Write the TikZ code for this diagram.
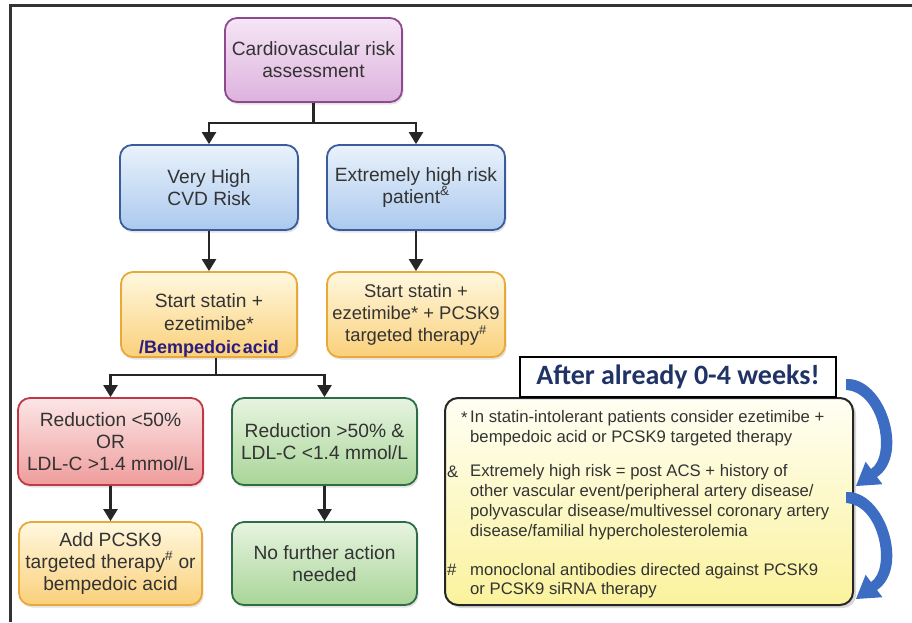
\documentclass[tikz,border=0pt]{standalone}
\usepackage{fontspec}
\setmainfont{Liberation Sans}
\newfontfamily\calfont{Carlito}
\usetikzlibrary{arrows.meta,shadows}
\definecolor{txt}{HTML}{333333}
\definecolor{purB}{HTML}{8E4A8E}\definecolor{purT}{HTML}{F5E6F5}\definecolor{purL}{HTML}{DDB2DD}
\definecolor{bluB}{HTML}{3A5C9C}\definecolor{bluT}{HTML}{E9F2FB}\definecolor{bluL}{HTML}{ABC9EE}
\definecolor{yelB}{HTML}{E8A83A}\definecolor{yelT}{HTML}{FFF8DF}\definecolor{yelL}{HTML}{FAD07A}
\definecolor{redB}{HTML}{C03848}\definecolor{redT}{HTML}{FCE6E6}\definecolor{redL}{HTML}{EF9C9C}
\definecolor{grnB}{HTML}{2E6E46}\definecolor{grnT}{HTML}{E7F4E0}\definecolor{grnL}{HTML}{A9D598}
\definecolor{noteT}{HTML}{FFFFF4}\definecolor{noteL}{HTML}{FAF29C}
\definecolor{bemp}{HTML}{2A1C80}
\definecolor{navy}{HTML}{1F3366}
\definecolor{arrblue}{HTML}{3C6DC2}
\begin{document}
\begin{tikzpicture}[x=1pt,y=-1pt,
  flow/.style={rounded corners=12pt, line width=1.8pt, align=center, text=txt,
    font=\fontsize{19.2}{22}\selectfont, inner sep=0pt,
    drop shadow={opacity=0.22, shadow xshift=1.5pt, shadow yshift=-2.5pt}},
  purplebox/.style={flow, draw=purB, top color=purT, bottom color=purL},
  bluebox/.style={flow, draw=bluB, top color=bluT, bottom color=bluL},
  yelbox/.style={flow, draw=yelB, top color=yelT, bottom color=yelL},
  redbox/.style={flow, draw=redB, top color=redT, bottom color=redL},
  grnbox/.style={flow, draw=grnB, top color=grnT, bottom color=grnL},
  flowtext/.style={align=center, text=txt, font=\fontsize{19.2}{23}\selectfont, inner sep=0pt},
  notetext/.style={font=\fontsize{16.7}{19.5}\selectfont, text=txt, align=left, inner sep=0pt, anchor=west},
  conn/.style={line width=2.4pt, draw=black!85},
  arr/.style={conn, -{Triangle[width=14pt,length=12pt]}},
  bluearrow/.style={fill=arrblue}
]
\useasboundingbox (0,0) rectangle (912,622);
\fill[white] (0,0) rectangle (912,622);
% frame
\draw[line width=3pt, black!80] (10,622) -- (10,5) -- (912,5);

% boxes
\node[purplebox, minimum width=177pt, minimum height=84pt] (p) at (313.5,60) {Cardiovascular risk\\assessment};
\node[bluebox, minimum width=178pt, minimum height=85pt] (vh) at (209,187.5) {Very High\\CVD Risk};
\node[bluebox, minimum width=178pt, minimum height=85pt] (eh) at (416,187.5) {Extremely high risk\\patient\textsuperscript{\&}};
\node[yelbox, minimum width=176pt, minimum height=85pt] (y1) at (209,314.5) {};
\node[flowtext] (y1t) at (209,325) {Start statin +\\ezetimibe*\\{\fontsize{18}{20}\selectfont\bfseries\color{bemp}/Bempedoic\hspace{1.5pt}acid}};
\node[yelbox, minimum width=178pt, minimum height=85pt, font=\fontsize{18.4}{22}\selectfont] (y2) at (416,314.5) {Start statin +\\ezetimibe* + PCSK9\\targeted therapy\textsuperscript{\#}};
\node[redbox, minimum width=185pt, minimum height=87pt] (red) at (110.5,441.5) {Reduction <50\%\\OR\\LDL-C >1.4 mmol/L};
\node[grnbox, minimum width=185pt, minimum height=87pt] (grn) at (324.5,441.5) {Reduction >50\% \&\\LDL-C <1.4 mmol/L};
\node[yelbox, minimum width=183pt, minimum height=83pt] (y3) at (110.5,563.5) {Add PCSK9\\targeted therapy\textsuperscript{\#} or\\bempedoic acid};
\node[grnbox, minimum width=185pt, minimum height=83pt] (g2) at (324.5,563.5) {No further action\\needed};

% connectors
\coordinate (j1) at (313.5,123);
\draw[conn] (p.south) -- (j1);
\draw[arr] (j1) -| (vh.north);
\draw[arr] (j1) -| (eh.north);
\draw[arr] (vh) -- (y1);
\draw[arr] (eh) -- (y2);
\coordinate (j2) at (216,375);
\draw[conn] (y1.south -| j2) -- (j2);
\draw[arr] (j2) -| (red.north);
\draw[arr] (j2) -| (grn.north);
\draw[arr] (red) -- (y3);
\draw[arr] (grn) -- (g2);

% notes
\node[draw=black!85, line width=2pt, rounded corners=13pt, top color=noteT, bottom color=noteL,
  minimum width=408pt, minimum height=207pt, inner sep=0pt,
  drop shadow={opacity=0.3, shadow xshift=3pt, shadow yshift=-3pt}] (notes) at (649,501.5) {};
\node[draw=black, line width=1.8pt, fill=white, minimum width=316pt, minimum height=40pt, inner sep=0pt,
  font=\calfont\bfseries\fontsize{28}{30}\selectfont, text=navy] (aft) at (678,377) {After already 0-4 weeks!};

\node[notetext, anchor=base west] (s1) at (461,423) {*};
\node[notetext] (n1) at (470,428) {In statin-intolerant patients consider ezetimibe +\\bempedoic acid or PCSK9 targeted therapy};
\node[notetext, anchor=base west] (s2) at (447,477) {\&};
\node[notetext, font=\fontsize{16.7}{20}\selectfont] (n2) at (470,502.5) {Extremely high risk = post ACS + history of\\other vascular event/peripheral artery disease/\\polyvascular disease/multivessel coronary artery\\disease/familial hypercholesterolemia};
\node[notetext, anchor=base west] (s3) at (447,575) {\#};
\node[notetext] (n3) at (470,580.5) {monoclonal antibodies directed against PCSK9\\or PCSK9 siRNA therapy};

% curved blue arrows
\fill[bluearrow] (846,379) .. controls (885,377) and (910,455) .. (877,477)
  -- (882.4,484.2) -- (856,486) -- (865.6,461.8) -- (871,469)
  .. controls (891,456) and (880,392) .. (846,390) -- cycle;
\begin{scope}[shift={(0,113)}]
\fill[bluearrow] (846,379) .. controls (885,377) and (910,455) .. (877,477)
  -- (882.4,484.2) -- (856,486) -- (865.6,461.8) -- (871,469)
  .. controls (891,456) and (880,392) .. (846,390) -- cycle;
\end{scope}
\end{tikzpicture}
\end{document}
